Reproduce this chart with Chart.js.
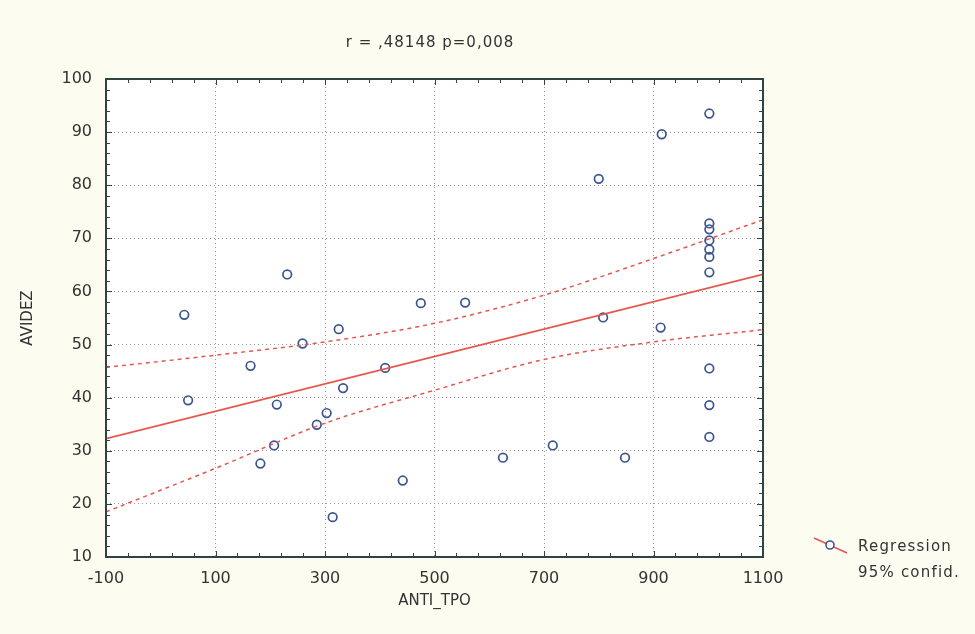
<!DOCTYPE html>
<html>
<head>
<meta charset="utf-8">
<script src="https://cdn.jsdelivr.net/npm/chart.js@4.4.1/dist/chart.umd.min.js"></script>
<style>
  html, body { margin: 0; padding: 0; background: #fdfcf0; }
  #wrap { position: relative; width: 975px; height: 634px; }
  canvas { position: absolute; left: 0; top: 0; }
  .leg { position: absolute; font-family: "DejaVu Sans", sans-serif; font-size: 15px; color: #333; letter-spacing: 1.2px; }
</style>
</head>
<body>
<div id="wrap">
  <canvas id="c" width="975" height="634"></canvas>
  <div class="leg" style="left:858px; top:537px;">Regression</div>
  <div class="leg" style="left:858px; top:563px;">95% confid.</div>
</div>
<script>
// ---- data ----
const titleText = "r = ,48148 p=0,008";
const xTitle = "ANTI_TPO";
const yTitle = "AVIDEZ";

const antiTpo = [43, 50, 164, 231, 475, 259, 325, 212, 333, 410, 303, 285, 207, 182, 314, 442,
                 556, 800, 915, 1002, 1002, 1002, 1002, 1002, 1002, 1002,
                 808, 913, 1002, 1002, 1002, 625, 716, 848];
const avidez  = [55.6, 39.5, 46.0, 63.2, 57.8, 50.2, 52.9, 38.7, 41.8, 45.6, 37.1, 34.9, 31.0, 27.6, 17.5, 24.4,
                 57.9, 81.2, 89.6, 93.5, 72.8, 71.7, 69.6, 67.9, 66.5, 63.6,
                 55.1, 53.2, 45.5, 38.6, 32.6, 28.7, 31.0, 28.7];

const regX = [-100, 1100];
const regY = [32.3, 63.2];

const bandX     = [-100, 100, 300, 500, 700, 900, 1100];
const bandUpper = [45.7, 48.0, 50.5, 54.0, 59.3, 66.2, 73.5];
const bandLower = [18.5, 26.7, 35.2, 41.4, 47.2, 50.5, 52.8];

const xTicks = [-100, 100, 300, 500, 700, 900, 1100];
const yTicks = [10, 20, 30, 40, 50, 60, 70, 80, 90, 100];

// ---- build ----
const pts = antiTpo.map((x, i) => ({ x, y: avidez[i] }));
const reg = regX.map((x, i) => ({ x, y: regY[i] }));
const up = bandX.map((x, i) => ({ x, y: bandUpper[i] }));
const lo = bandX.map((x, i) => ({ x, y: bandLower[i] }));

const FONT = "'DejaVu Sans', sans-serif";
const AXIS = "#2e4440";
const RED = "#e8554e";
const BLUE = "#3a5590";

const framePlugin = {
  id: 'frame',
  beforeDraw(chart) {
    const { ctx, chartArea: a } = chart;
    ctx.save();
    ctx.fillStyle = "#ffffff";
    ctx.fillRect(a.left, a.top, a.right - a.left, a.bottom - a.top);
    ctx.restore();
  },
  beforeDatasetsDraw(chart) {
    const { ctx, chartArea: a, scales } = chart;
    ctx.save();
    ctx.strokeStyle = AXIS;
    ctx.lineWidth = 1;
    ctx.beginPath();
    for (let v = -100; v <= 1100; v += 40) {
      const px = Math.round(scales.x.getPixelForValue(v)) + 0.5;
      const major = ((v + 100) % 200) === 0;
      const len = major ? 6 : 4;
      ctx.moveTo(px, a.bottom); ctx.lineTo(px, a.bottom - len);
      ctx.moveTo(px, a.top); ctx.lineTo(px, a.top + len);
    }
    for (let v = 10; v <= 100; v += 2) {
      const py = Math.round(scales.y.getPixelForValue(v)) + 0.5;
      const major = (v % 10) === 0;
      const len = major ? 6 : 4;
      ctx.moveTo(a.left, py); ctx.lineTo(a.left + len, py);
      ctx.moveTo(a.right, py); ctx.lineTo(a.right - len, py);
    }
    ctx.stroke();
    ctx.restore();
  },
  afterDraw(chart) {
    const { ctx, chartArea: a } = chart;
    ctx.save();
    ctx.strokeStyle = AXIS;
    ctx.lineWidth = 2;
    ctx.strokeRect(a.left, a.top, a.right - a.left, a.bottom - a.top);
    // legend symbol
    ctx.strokeStyle = RED;
    ctx.lineWidth = 1.5;
    ctx.beginPath();
    ctx.moveTo(814, 538); ctx.lineTo(847, 553);
    ctx.stroke();
    ctx.strokeStyle = BLUE;
    ctx.lineWidth = 1.6;
    ctx.fillStyle = "#ffffff";
    ctx.beginPath();
    ctx.arc(830, 545, 4, 0, Math.PI * 2);
    ctx.fill();
    ctx.stroke();
    // title
    ctx.fillStyle = "#333";
    ctx.font = "15px " + FONT;
    ctx.textAlign = "center";
    ctx.textBaseline = "middle";
    try { ctx.letterSpacing = "1px"; } catch (e) {}
    ctx.fillText(titleText, 430, 43);
    ctx.restore();
  }
};

new Chart(document.getElementById('c'), {
  type: 'scatter',
  data: {
    datasets: [
      {
        label: 'upper', data: up, type: 'line', showLine: true, pointRadius: 0,
        borderColor: RED, borderWidth: 1.5, borderDash: [4, 4], fill: false,
        cubicInterpolationMode: 'monotone'
      },
      {
        label: 'lower', data: lo, type: 'line', showLine: true, pointRadius: 0,
        borderColor: RED, borderWidth: 1.5, borderDash: [4, 4], fill: false,
        cubicInterpolationMode: 'monotone'
      },
      {
        label: 'Regression', data: reg, type: 'line', showLine: true, pointRadius: 0,
        borderColor: RED, borderWidth: 1.7, fill: false
      },
      {
        label: 'points', data: pts, pointStyle: 'circle', pointRadius: 4.3,
        pointBorderWidth: 1.7, pointBorderColor: BLUE, pointBackgroundColor: 'rgba(0,0,0,0)'
      }
    ]
  },
  options: {
    responsive: false,
    animation: false,
    devicePixelRatio: 1,
    layout: { padding: { top: 79, right: 212, left: 0, bottom: 0 } },
    plugins: { legend: { display: false }, tooltip: { enabled: false }, title: { display: false } },
    scales: {
      x: {
        type: 'linear', min: -100, max: 1100,
        afterBuildTicks: (s) => { s.ticks = xTicks.map(v => ({ value: v })); },
        afterFit: (s) => { s.height = 77; },
        grid: { color: '#9a9a9a', lineWidth: 1, drawTicks: false },
        border: { display: false, dash: [1, 3] },
        ticks: { color: '#333', font: { family: FONT, size: 16 }, padding: 12, maxRotation: 0,
                 callback: (v) => String(v) },
        title: { display: true, text: xTitle, color: '#333', font: { family: FONT, size: 15 }, padding: { bottom: 24, top: 0 } }
      },
      y: {
        type: 'linear', min: 10, max: 100,
        afterBuildTicks: (s) => { s.ticks = yTicks.map(v => ({ value: v })); },
        afterFit: (s) => { s.width = 106; },
        grid: { color: '#9a9a9a', lineWidth: 1, drawTicks: false },
        border: { display: false, dash: [1, 3] },
        ticks: { color: '#333', font: { family: FONT, size: 16 }, padding: 14,
                 callback: (v) => String(v) },
        title: { display: true, text: yTitle, color: '#333', font: { family: FONT, size: 15 }, padding: { top: 19, bottom: 0 } }
      }
    }
  },
  plugins: [framePlugin]
});
</script>
</body>
</html>
